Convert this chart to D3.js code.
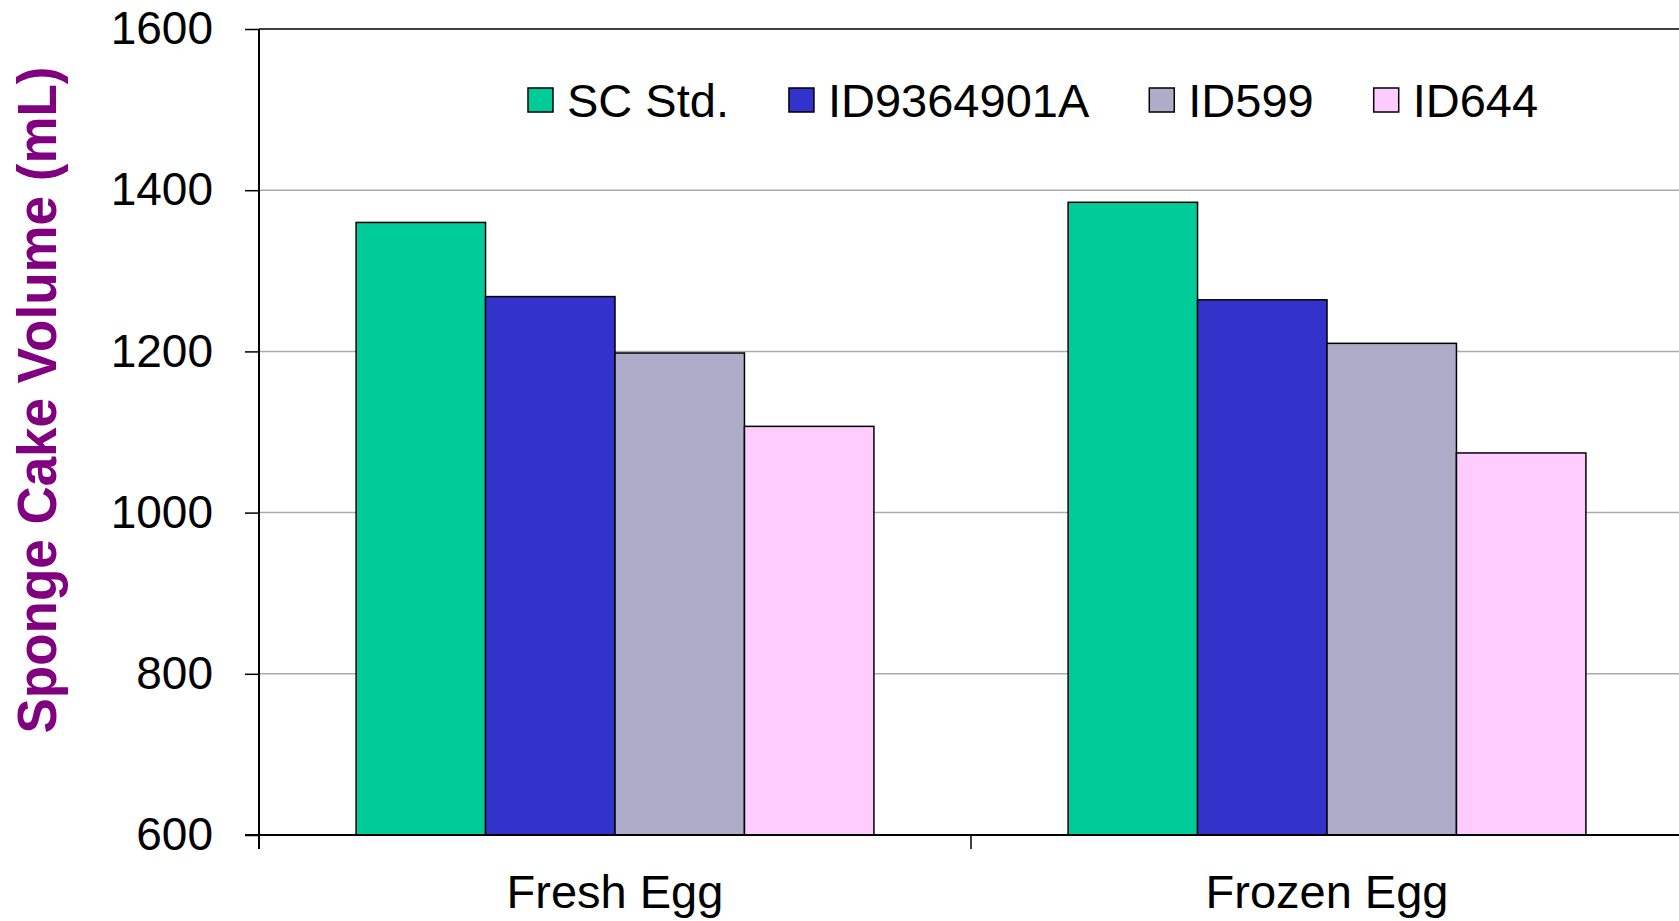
<!DOCTYPE html>
<html>
<head>
<meta charset="utf-8">
<script src="https://cdn.jsdelivr.net/npm/d3@7/dist/d3.min.js"></script>
<style>
html,body{margin:0;padding:0;background:#fff;}
svg{display:block;}
text{font-family:"Liberation Sans", Arial, sans-serif;}
</style>
</head>
<body>
<svg id="chart" width="1679" height="921"></svg>
<script>
const categories = ["Fresh Egg", "Frozen Egg"];
const seriesNames = ["SC Std.", "ID9364901A", "ID599", "ID644"];
const scStd = [1360, 1385];
const id9364901A = [1268, 1264];
const id599 = [1198, 1210];
const id644 = [1107, 1074];
const yTicks = [600, 800, 1000, 1200, 1400, 1600];
const colors = ["#00CC99", "#3333CC", "#ADADC9", "#FFCCFF"];
const yTitle = "Sponge Cake Volume (mL)";

(function () {
const seriesValues = [scStd, id9364901A, id599, id644];
const data = categories.map((c, i) => ({
  cat: c,
  vals: seriesNames.map((s, j) => ({ key: s, value: seriesValues[j][i], color: colors[j] }))
}));

const svg = d3.select("#chart");
const pLeft = 259, pRight = 1683, pTop = 29, pBottom = 835;

const y = d3.scaleLinear().domain([600, 1600]).range([pBottom, pTop]);
const x0 = d3.scaleBand().domain(categories).range([pLeft, pRight]).padding(0);
const x1 = d3.scaleBand().domain(seriesNames).range([0, x0.bandwidth()]).paddingInner(0).paddingOuter(0.75);

// gridlines
svg.append("g").selectAll("line").data(yTicks.filter(t => t !== 600)).join("line")
  .attr("x1", pLeft).attr("x2", 1679)
  .attr("y1", d => y(d)).attr("y2", d => y(d))
  .attr("stroke", d => d === 1600 ? "#000" : "#ababab")
  .attr("stroke-width", 1.5);

// bars
const groups = svg.append("g").selectAll("g").data(data).join("g")
  .attr("transform", d => `translate(${x0(d.cat)},0)`);
groups.selectAll("rect").data(d => d.vals).join("rect")
  .attr("x", d => x1(d.key))
  .attr("width", x1.bandwidth())
  .attr("y", d => y(d.value))
  .attr("height", d => y(600) - y(d.value))
  .attr("fill", d => d.color)
  .attr("stroke", "#000")
  .attr("stroke-width", 1.5);

// y axis
const yAxis = d3.axisLeft(y).tickValues(yTicks).tickSize(14).tickPadding(32).tickFormat(d3.format("d"));
const gy = svg.append("g").attr("transform", `translate(${pLeft},0)`).call(yAxis);
gy.select(".domain").remove();
gy.selectAll(".tick line").attr("stroke", "#000").attr("stroke-width", 1.5);
gy.selectAll(".tick text").attr("font-size", 46).attr("fill", "#000")
  .style("font-family", "'Liberation Sans', Arial, sans-serif");
svg.append("line").attr("x1", pLeft).attr("x2", pLeft).attr("y1", pTop).attr("y2", pBottom + 14)
  .attr("stroke", "#000").attr("stroke-width", 2);

// x axis
svg.append("line").attr("x1", pLeft - 14).attr("x2", 1679).attr("y1", pBottom).attr("y2", pBottom)
  .attr("stroke", "#000").attr("stroke-width", 2);
const xTickPos = [pLeft, x0(categories[1]), pRight];
svg.append("g").selectAll("line").data(xTickPos).join("line")
  .attr("x1", d => d).attr("x2", d => d).attr("y1", pBottom).attr("y2", pBottom + 14)
  .attr("stroke", "#000").attr("stroke-width", 1.5);
svg.append("g").selectAll("text").data(categories).join("text")
  .attr("x", d => x0(d) + x0.bandwidth() / 2)
  .attr("y", 908)
  .attr("text-anchor", "middle")
  .attr("font-size", 47)
  .attr("fill", "#000")
  .text(d => d);

// y title
svg.append("text")
  .attr("transform", "translate(56,400) rotate(-90)")
  .attr("text-anchor", "middle")
  .attr("font-size", 56)
  .attr("font-weight", "bold")
  .attr("fill", "#800080")
  .attr("textLength", 667)
  .attr("lengthAdjust", "spacingAndGlyphs")
  .text(yTitle);

// legend
const lg = svg.append("g");
let lx = 528;
const ly = 100;
seriesNames.forEach((s, i) => {
  lg.append("rect").attr("x", lx).attr("y", ly - 12).attr("width", 25).attr("height", 24)
    .attr("fill", colors[i]).attr("stroke", "#000").attr("stroke-width", 1.5);
  const t = lg.append("text").attr("x", lx + 39).attr("y", ly + 17)
    .attr("font-size", 47).attr("fill", "#000").text(s);
  lx = lx + 39 + t.node().getComputedTextLength() + 60;
});
})();
</script>
</body>
</html>
